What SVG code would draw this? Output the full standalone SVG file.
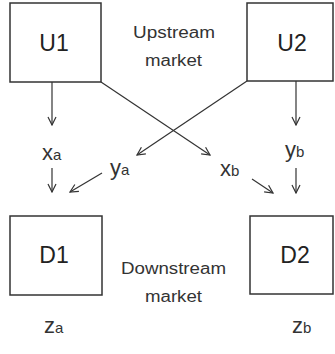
<svg xmlns="http://www.w3.org/2000/svg" width="335" height="354" viewBox="0 0 335 354">
<defs>
<marker id="ah" markerWidth="10" markerHeight="10" refX="9" refY="5" orient="auto" markerUnits="userSpaceOnUse">
<polyline points="1,1 9,5 1,9" fill="none" stroke="#333" stroke-width="1.2"/>
</marker>
<style>
.box{fill:#fff;stroke:#333;stroke-width:1.5}
.lbl{font-family:"Liberation Sans",Arial,sans-serif;font-size:23px;fill:#222;text-anchor:middle}
.mk{font-family:"Liberation Sans",Arial,sans-serif;font-size:16px;fill:#333}
.var{font-family:"Liberation Sans",Arial,sans-serif;font-size:22px;fill:#333}
.sub{font-size:15px}
.c{fill:none;stroke:#333;stroke-width:1.2;marker-end:url(#ah)}
</style>
</defs>
<g id="U1"><rect class="box" x="10" y="3" width="91" height="79"/><text class="lbl" x="54" y="51">U1</text></g>
<g id="U2"><rect class="box" x="247" y="3" width="86" height="78"/><text class="lbl" x="292" y="51">U2</text></g>
<g id="D1"><rect class="box" x="10" y="216" width="92" height="79"/><text class="lbl" x="54" y="263">D1</text></g>
<g id="D2"><rect class="box" x="250" y="216" width="83" height="78"/><text class="lbl" x="295" y="263">D2</text></g>
<g id="labels">
<text class="mk" x="133" y="38" textLength="82" lengthAdjust="spacingAndGlyphs">Upstream</text>
<text class="mk" x="145" y="66" textLength="57" lengthAdjust="spacingAndGlyphs">market</text>
<text class="mk" x="121" y="274" textLength="105" lengthAdjust="spacingAndGlyphs">Downstream</text>
<text class="mk" x="145" y="302" textLength="57" lengthAdjust="spacingAndGlyphs">market</text>
<text class="var" x="42" y="160">x<tspan class="sub">a</tspan></text>
<text class="var" x="110" y="175">y<tspan class="sub">a</tspan></text>
<text class="var" x="220" y="176">x<tspan class="sub">b</tspan></text>
<text class="var" x="285" y="157">y<tspan class="sub">b</tspan></text>
<text class="var" x="44" y="333">z<tspan class="sub">a</tspan></text>
<text class="var" x="292" y="333">z<tspan class="sub">b</tspan></text>
</g>
<g id="connectors">
<line class="c" x1="52" y1="82" x2="52" y2="125"/>
<line class="c" x1="296" y1="81" x2="296" y2="125"/>
<line class="c" x1="101" y1="82" x2="210" y2="155"/>
<line class="c" x1="247" y1="81" x2="137" y2="155"/>
<line class="c" x1="52" y1="168" x2="52" y2="192"/>
<line class="c" x1="102" y1="173" x2="70" y2="192"/>
<line class="c" x1="252" y1="179" x2="273" y2="193"/>
<line class="c" x1="296" y1="168" x2="296" y2="193"/>
</g>
</svg>
